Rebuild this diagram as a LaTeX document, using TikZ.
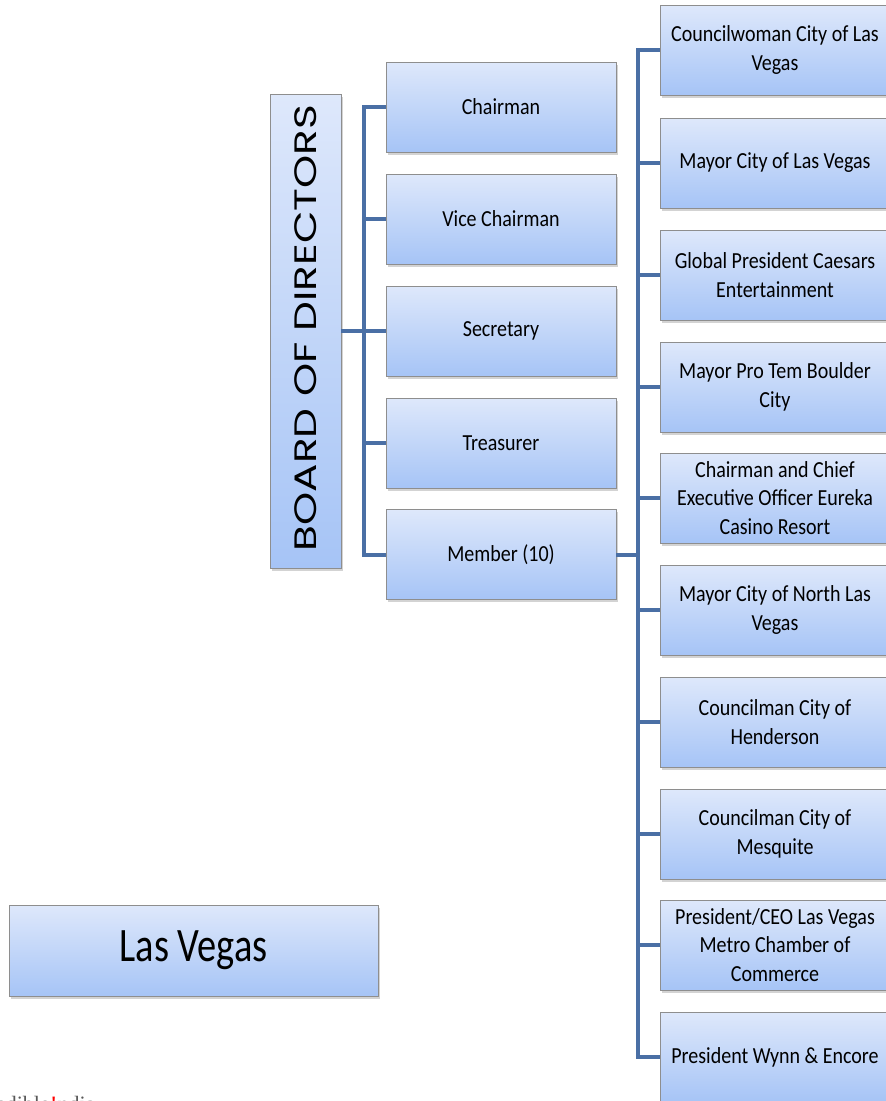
\documentclass[tikz,border=0pt]{standalone}
\usepackage{fontspec}
\setmainfont{Carlito}
\newfontfamily\boxfont[FakeStretch=0.87]{Carlito}
\newfontfamily\bigfont[FakeStretch=0.8]{Carlito}
\newfontfamily\boardfont[FakeStretch=1.36]{Poppins}
\newfontfamily\logofont{Liberation Serif}
\usetikzlibrary{shadows}
\definecolor{conncol}{HTML}{4A6FA5}
\definecolor{boxtop}{HTML}{DEE8FB}
\definecolor{boxbot}{HTML}{A6C4F6}
\definecolor{boxline}{HTML}{8E8E8E}
\tikzset{
  bluebox/.style={draw=boxline, line width=0.8pt, top color=boxtop, bottom color=boxbot,
    drop shadow={shadow xshift=2pt, shadow yshift=-2.5pt, opacity=0.35},
    minimum width=230pt, minimum height=90pt, inner sep=0pt, align=center,
    font=\boxfont\fontsize{23}{28.5}\selectfont},
  conn/.style={draw=conncol, line width=4pt, line join=miter},
}
\begin{document}
\begin{tikzpicture}[x=1pt,y=-1pt]
\useasboundingbox (0,0) rectangle (886,1101);
% board
\node[bluebox, minimum width=71pt, minimum height=474pt] (board) at (305.5,331) {};
\node[rotate=90, font=\boardfont\fontsize{31}{31}\selectfont, inner sep=0pt] (boardtxt) at (306,328) {BOARD OF DIRECTORS};
% left column
\node[bluebox] (chair) at (501,107) {Chairman};
\node[bluebox] (vice) at (501,219) {Vice Chairman};
\node[bluebox] (sec) at (501,331) {Secretary};
\node[bluebox] (treas) at (501,443) {Treasurer};
\node[bluebox] (member) at (501,554.5) {Member (10)};
% right column
\node[bluebox] (r1) at (775,50) {Councilwoman City of Las\\Vegas};
\node[bluebox] (r2) at (775,163) {Mayor City of Las Vegas};
\node[bluebox] (r3) at (775,275) {Global President Caesars\\Entertainment};
\node[bluebox] (r4) at (775,387) {Mayor Pro Tem Boulder\\City};
\node[bluebox] (r5) at (775,498) {Chairman and Chief\\Executive Officer Eureka\\Casino Resort};
\node[bluebox] (r6) at (775,610) {Mayor City of North Las\\Vegas};
\node[bluebox] (r7) at (775,722) {Councilman City of\\Henderson};
\node[bluebox] (r8) at (775,834) {Councilman City of\\Mesquite};
\node[bluebox] (r9) at (775,945) {President/CEO Las Vegas\\Metro Chamber of\\Commerce};
\node[bluebox] (r10) at (775,1057) {President Wynn \& Encore};
% Las Vegas
\node[bluebox, minimum width=369pt, minimum height=91pt, font=\bigfont\fontsize{48}{48}\selectfont] (lv) at (193.5,950.5) {Las Vegas};
% connectors
\coordinate (bj) at (364,331);
\coordinate (mj) at (638,554.5);
\draw[conn] (board.east) -- (bj);
\draw[conn] (chair.west) -| (bj) |- (member.west);
\foreach \n in {vice,sec,treas} \draw[conn] (\n.west) -- (\n.west -| bj);
\draw[conn] (member.east) -- (mj);
\draw[conn] (r1.west) -| (mj) |- (r10.west);
\foreach \n in {r2,r3,r4,r5,r6,r7,r8,r9} \draw[conn] (\n.west) -- (\n.west -| mj);
% logo (cut off at bottom)
\begin{scope}
\clip (0,0) rectangle (886,1101);
\node[anchor=base east, inner sep=0pt, font=\logofont\fontsize{22}{22}\selectfont, text=gray!70!black] (logo1) at (50,1111) {Incredible\ };
\node[anchor=base west, inner sep=0pt, font=\logofont\fontsize{22}{22}\selectfont, text=gray!70!black] (logo2) at (logo1.base east) {\textcolor{red}{!}ndia};
\end{scope}
\end{tikzpicture}
\end{document}
